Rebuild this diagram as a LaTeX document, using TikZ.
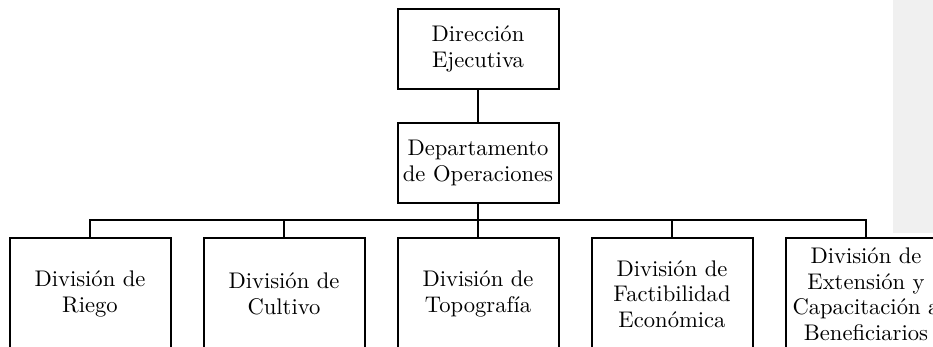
\documentclass[tikz,border=0pt]{standalone}
\usepackage{fontspec}
\setmainfont{lmroman10-regular.otf}
\definecolor{bandgrey}{RGB}{240,240,240}
\tikzset{
  orgbox/.style={draw=black, line width=2pt, minimum width=161pt, minimum height=80pt,
    inner sep=0pt, align=center, font=\fontsize{22.6}{25.5}\selectfont},
  divbox/.style={orgbox, minimum height=112pt, anchor=north},
  link/.style={draw=black, line width=2pt}
}
\begin{document}
\begin{tikzpicture}[x=1pt,y=-1pt]
\useasboundingbox (0,0) rectangle (933,347);
\clip (0,0) rectangle (933,347);
\fill[bandgrey] (893,0) rectangle (933,233);
\node[orgbox] (dir) at (478,49) {Dirección\\Ejecutiva};
\node[orgbox] (dep) at (478,163) {Departamento\\de Operaciones};
\node[divbox] (d1) at (90,237) {División de\\Riego};
\node[divbox] (d2) at (284,237) {División de\\Cultivo};
\node[divbox] (d3) at (478,237) {División de\\Topografía};
\node[divbox] (d4) at (672,237) {División de\\Factibilidad\\Económica};
\node[divbox] (d5) at (866,237) {División de\\Extensión y\\Capacitación a\\Beneficiarios};
\coordinate (bus) at (478,220);
\draw[link] (dir.south) -- (dep.north);
\draw[link] (dep.south) -- (bus);
\draw[link, line cap=rect] (d1.north |- bus) -- (d5.north |- bus);
\foreach \n in {d1,d2,d3,d4,d5} {
  \draw[link] (\n.north |- bus) -- (\n.north);
}
\end{tikzpicture}
\end{document}
